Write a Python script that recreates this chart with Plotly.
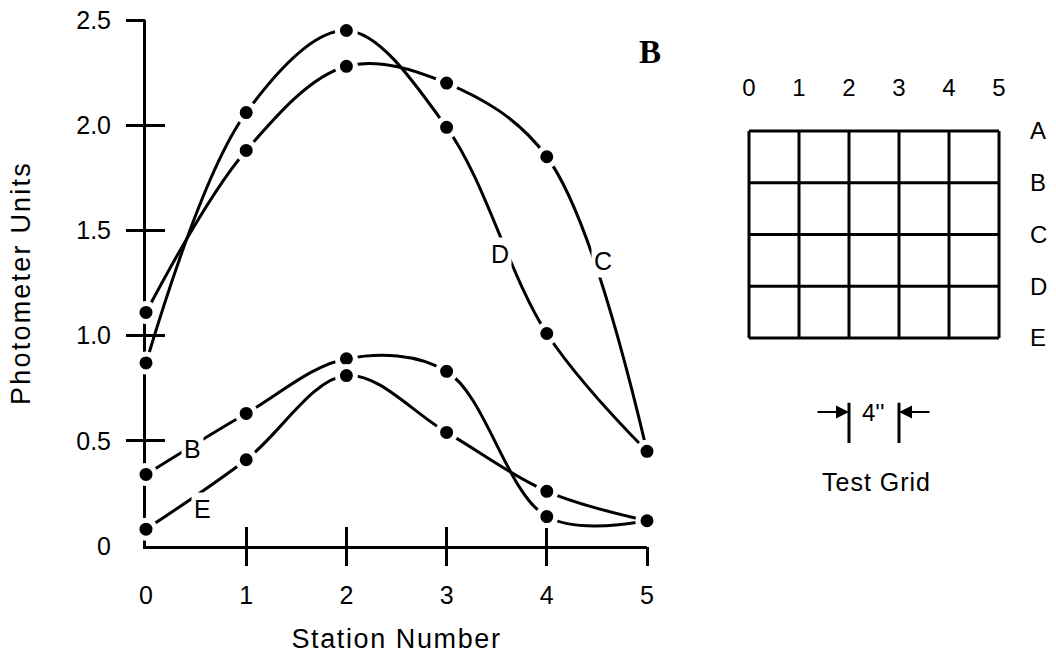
import plotly.graph_objects as go

# ---------------- data ----------------
stations = [0, 1, 2, 3, 4, 5]
curve_B = [0.34, 0.63, 0.89, 0.83, 0.14, 0.12]
curve_C = [1.11, 1.88, 2.28, 2.20, 1.85, 0.45]
curve_D = [0.87, 2.06, 2.45, 1.99, 1.01, 0.45]
curve_E = [0.08, 0.41, 0.81, 0.54, 0.26, 0.12]
y_tickvals = [0, 0.5, 1.0, 1.5, 2.0, 2.5]
y_ticktext = ["0", "0.5", "1.0", "1.5", "2.0", "2.5"]
x_tickvals = [0, 1, 2, 3, 4, 5]
curve_label_text = ["B", "E", "D", "C"]
curve_label_x = [0.46, 0.56, 3.53, 4.56]
curve_label_y = [0.46, 0.175, 1.39, 1.355]

grid_cols = [0, 1, 2, 3, 4, 5]
grid_rows = ["A", "B", "C", "D", "E"]
grid_row_vals = [4, 3, 2, 1, 0]

W, H = 1056, 669
FONT = "Liberation Sans"


def fx(p):
    return p / W


def fy(p):
    return 1 - p / H


fig = go.Figure()

series = [("B", curve_B), ("C", curve_C), ("D", curve_D), ("E", curve_E)]
# lines first
for name, vals in series:
    fig.add_trace(go.Scatter(
        x=stations, y=vals, mode="lines", name=name,
        line=dict(color="black", width=3, shape="spline"),
        showlegend=False, hoverinfo="skip"))
# dots on top, white rim makes the small gaps
for name, vals in series:
    fig.add_trace(go.Scatter(
        x=stations, y=vals, mode="markers", name=name,
        marker=dict(color="black", size=18, line=dict(color="white", width=5)),
        cliponaxis=False, showlegend=False))

# crossing ticks via overlay axes
fig.add_trace(go.Scatter(x=[None], y=[None], xaxis="x3", yaxis="y3",
                         showlegend=False, hoverinfo="skip"))
fig.add_trace(go.Scatter(x=[None], y=[None], xaxis="x4", yaxis="y4",
                         showlegend=False, hoverinfo="skip"))

# test grid
gx, gy = [], []
for c in grid_cols:
    gx += [c, c, None]
    gy += [0, 4, None]
for r in grid_row_vals:
    gx += [0, 5, None]
    gy += [r, r, None]
fig.add_trace(go.Scatter(x=gx, y=gy, mode="lines", xaxis="x2", yaxis="y2",
                         line=dict(color="black", width=3),
                         showlegend=False, hoverinfo="skip"))
# dimension bars (4'' spacing between columns 2 and 3)
fig.add_trace(go.Scatter(x=[2, 2, None, 3, 3], y=[-1.25, -2.03, None, -1.25, -2.03],
                         mode="lines", xaxis="x2", yaxis="y2",
                         line=dict(color="black", width=3),
                         showlegend=False, hoverinfo="skip"))

x_dom = [fx(146), fx(647)]
y_dom = [fy(546), fy(20)]
common = dict(showgrid=False, zeroline=False, layer="below traces", automargin=False)

fig.update_layout(
    width=W, height=H,
    margin=dict(l=0, r=0, t=0, b=0, autoexpand=False),
    paper_bgcolor="white", plot_bgcolor="rgba(0,0,0,0)",
    font=dict(family=FONT, color="black", size=25),
    xaxis=dict(domain=x_dom, range=[0, 5], anchor="y", showline=True, linecolor="black",
               linewidth=3, ticks="", tickvals=x_tickvals, ticklabelstandoff=25,
               tickfont=dict(size=25),
               title=dict(text='<span style="letter-spacing:1.6px">Station Number</span>',
                          font=dict(size=27), standoff=22),
               **common),
    yaxis=dict(domain=y_dom, range=[0, 2.5], anchor="x", showline=True, linecolor="black",
               linewidth=3, ticks="", tickvals=y_tickvals, ticktext=y_ticktext,
               ticklabelstandoff=27, tickfont=dict(size=25),
               title=dict(text='<span style="letter-spacing:2.2px">Photometer Units</span>',
                          font=dict(size=27), standoff=38),
               **common),
    xaxis3=dict(overlaying="x", anchor="y", range=[0, 5], ticks="outside", ticklen=19,
                tickwidth=3, tickcolor="black", tickvals=[1, 2, 3, 4, 5],
                showticklabels=False, showline=False, **common),
    yaxis3=dict(overlaying="y", anchor="x", range=[0, 2.5], ticks="outside", ticklen=19,
                tickwidth=3, tickcolor="black", tickvals=[0.5, 1.0, 1.5, 2.0, 2.5],
                showticklabels=False, showline=False, **common),
    xaxis4=dict(overlaying="x", anchor="y", range=[0, 5], ticks="inside", ticklen=19,
                tickwidth=3, tickcolor="black", tickvals=[1, 2, 3, 4],
                showticklabels=False, showline=False, **common),
    yaxis4=dict(overlaying="y", anchor="x", range=[0, 2.5], ticks="inside", ticklen=19,
                tickwidth=3, tickcolor="black", tickvals=[0.5, 1.0, 1.5, 2.0, 2.5],
                showticklabels=False, showline=False, **common),
    xaxis2=dict(domain=[fx(739), fx(1009)], range=[-0.2, 5.2], anchor="y2", side="top",
                showline=False, ticks="", tickvals=grid_cols, ticklabelstandoff=19,
                tickfont=dict(size=24), **common),
    yaxis2=dict(domain=[fy(493.25), fy(120.65)], range=[-3, 4.2], anchor="x2", side="right",
                showline=False, ticks="", tickvals=grid_row_vals, ticktext=grid_rows,
                ticklabelstandoff=20, tickfont=dict(size=24), **common),
)

annotations = []
for t, x, y in zip(curve_label_text, curve_label_x, curve_label_y):
    annotations.append(dict(x=x, y=y, xref="x", yref="y", text=t, showarrow=False,
                            font=dict(size=25), bgcolor="white", borderpad=2))
annotations.append(dict(x=fx(650), y=fy(52), xref="paper", yref="paper", text="B",
                        showarrow=False, xanchor="center", yanchor="middle",
                        font=dict(family="Liberation Serif", size=33, weight=700)))
annotations.append(dict(x=2, y=-1.43, xref="x2", yref="y2", ax=1.34, ay=-1.43,
                        axref="x2", ayref="y2", text="", showarrow=True, arrowhead=2,
                        arrowsize=1.3, arrowwidth=2, arrowcolor="black"))
annotations.append(dict(x=3, y=-1.43, xref="x2", yref="y2", ax=3.64, ay=-1.43,
                        axref="x2", ayref="y2", text="", showarrow=True, arrowhead=2,
                        arrowsize=1.3, arrowwidth=2, arrowcolor="black"))
annotations.append(dict(x=2.48, y=-1.43, xref="x2", yref="y2", text="4''",
                        showarrow=False, font=dict(size=24)))
annotations.append(dict(x=2.54, y=-2.78, xref="x2", yref="y2",
                        text='<span style="letter-spacing:1px">Test Grid</span>',
                        showarrow=False, font=dict(size=25)))
fig.update_layout(annotations=annotations)

fig.write_html("out.html")
